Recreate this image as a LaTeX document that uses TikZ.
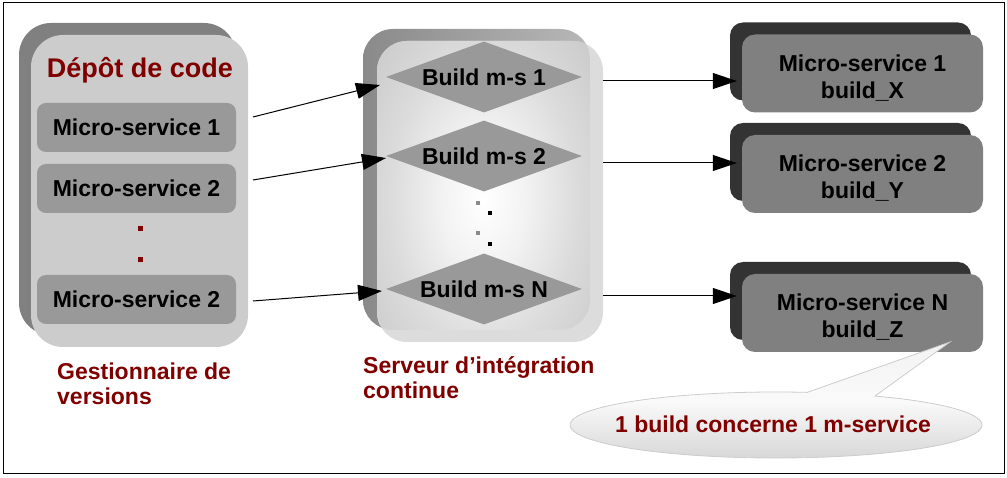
\documentclass[tikz,border=0pt]{standalone}
\usepackage{fontspec}
\setmainfont{Liberation Sans}
\usetikzlibrary{shapes.geometric,arrows.meta,calc}
\definecolor{dred}{HTML}{800000}
\definecolor{shadeL}{HTML}{808080}
\definecolor{frontLc}{HTML}{CCCCCC}
\definecolor{boxc}{HTML}{999999}
\definecolor{rimc}{HTML}{DCDCDC}
\definecolor{darkS}{HTML}{333333}
\definecolor{outc}{HTML}{808080}
\definecolor{dotg}{HTML}{8A8A8A}
\pgfdeclareradialshading{ciglow}{\pgfpoint{0bp}{0bp}}{color(0bp)=(white); color(10bp)=(white!95!black); color(22bp)=(black!14); color(46bp)=(black!27); color(50bp)=(black!27)}
\begin{document}
\begin{tikzpicture}[x=1pt,y=1pt,
  txt/.style={font=\bfseries\fontsize{23}{27}\selectfont},
  lbl/.style={font=\bfseries\fontsize{23}{25}\selectfont, text=dred, align=left, inner sep=0pt},
  shadowL/.style={rectangle, rounded corners=32pt, minimum width=217pt, minimum height=312pt, fill=shadeL, inner sep=0pt},
  frontL/.style={rectangle, rounded corners=32pt, minimum width=217pt, minimum height=312pt, fill=frontLc, inner sep=0pt},
  msbox/.style={txt, rectangle, rounded corners=9pt, minimum width=199pt, minimum height=49pt, fill=boxc, inner sep=0pt},
  buildd/.style={txt, diamond, aspect=2.76, minimum width=196pt, minimum height=71pt, fill=boxc, inner sep=0pt},
  outS/.style={rectangle, rounded corners=13pt, minimum width=241pt, minimum height=78pt, fill=darkS, inner sep=0pt},
  outF/.style={txt, align=center, rectangle, rounded corners=13pt, minimum width=241pt, minimum height=78pt, fill=outc, inner sep=0pt},
  dotsq/.style={rectangle, minimum size=5pt, inner sep=0pt, fill=#1},
  arr/.style={line width=1pt, -{Triangle[length=24pt, width=16pt]}}
]
\useasboundingbox (0,0) rectangle (1007,-478);
\draw[line width=1pt] (3,-3) rectangle (1004,-473);

% ---- left container
\node[shadowL] (repoS) at (127.5,-179) {};
\node[frontL] (repo) at (139.5,-191) {};
\node[font=\bfseries\fontsize{27}{31}\selectfont, text=dred, anchor=base, inner sep=0pt] (title) at (140,-78) {Dépôt de code};
\node[msbox] (ms1) at (136.5,-127.5) {Micro-service 1};
\node[msbox] (ms2) at (136.5,-188.5) {Micro-service 2};
\node[msbox] (ms3) at (136.5,-299.5) {Micro-service 2};
\node[dotsq=dred] (ld1) at (140,-229) {};
\node[dotsq=dred] (ld2) at (140,-260) {};
\node[lbl, anchor=north west] (gv) at (57,-363) {Gestionnaire de\\versions};

% ---- middle container
\shade[left color=black!46, right color=black!28, rounded corners=30pt] (363,-29) rectangle (590,-330);
\node[rectangle, rounded corners=30pt, minimum width=226pt, minimum height=301pt, fill=rimc, inner sep=0pt] (ci) at (490,-191.5) {};
\begin{scope}
  \clip[rounded corners=30pt] (363,-29) rectangle (590,-330);
  \clip[rounded corners=30pt] (377,-41) rectangle (603,-342);
  \shade[shading=ciglow] (377,-30) rectangle (590,-370);
\end{scope}
\node[buildd] (b1) at (484,-77) {Build m-s 1};
\node[buildd] (b2) at (484,-156) {Build m-s 2};
\node[buildd] (bn) at (484,-289) {Build m-s N};
\node[dotsq=dotg, minimum size=4pt] (md1) at (478,-203) {};
\node[dotsq=black, minimum size=4pt] (md2) at (490,-213) {};
\node[dotsq=dotg, minimum size=4pt] (md3) at (478,-233) {};
\node[dotsq=black, minimum size=4pt] (md4) at (490,-244) {};
\node[lbl, anchor=north west] (sic) at (363,-356) {Serveur d’intégration\\continue};

% ---- right outputs
\node[outS] (o1s) at (850.5,-61.5) {};
\node[outF] (o1) at (862.5,-73.5) {\rule{0pt}{25pt}Micro-service 1\\build\_X};
\node[outS] (o2s) at (850.5,-162) {};
\node[outF] (o2) at (862.5,-174) {\rule{0pt}{25pt}Micro-service 2\\build\_Y};
\node[outS] (ons) at (850.5,-301) {};
\node[outF] (on) at (862.5,-313) {\rule{0pt}{25pt}Micro-service N\\build\_Z};

% ---- arrows left -> middle
\coordinate (s1) at (253,-117);
\coordinate (s2) at (253,-180);
\coordinate (s3) at (253,-301);
\coordinate (e1) at (380,-85);
\coordinate (e2) at (386,-158);
\coordinate (e3) at (382,-291);
\draw[arr] (s1) -- (e1);
\draw[arr] (s2) -- (e2);
\draw[arr] (s3) -- (e3);

% ---- arrows middle -> right
\coordinate (r1) at (603,-81);
\coordinate (r2) at (603,-163);
\coordinate (r3) at (603,-296);
\draw[arr] (r1) -- ([xshift=-5pt]r1 -| o1.west);
\draw[arr] (r2) -- ([xshift=-5pt]r2 -| o2.west);
\draw[arr] (r3) -- ([xshift=-5pt]r3 -| on.west);

% ---- callout
\coordinate (cc) at (776,-425);
\coordinate (tip) at (950,-342);
\path[draw=black!20, line width=0.8pt, top color=black!5, bottom color=black!16, middle color=black!2]
  ($(cc)+(81.3:206pt and 33pt)$) arc[start angle=81.3, end angle=421.3, x radius=206pt, y radius=33pt] -- (tip) -- cycle;
\node[txt, text=dred, inner sep=0pt] (note) at (773,-424) {1 build concerne 1 m-service};
\end{tikzpicture}
\end{document}
